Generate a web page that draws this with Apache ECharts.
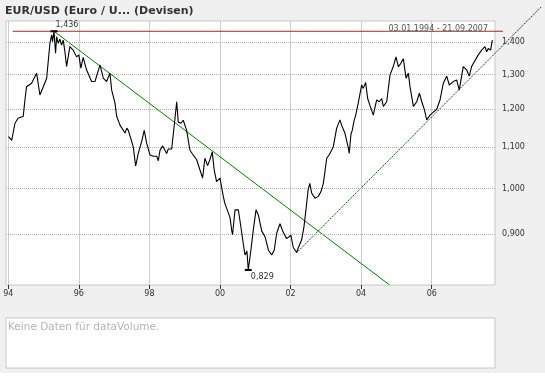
<!DOCTYPE html>
<html><head><meta charset="utf-8">
<script src="https://cdn.jsdelivr.net/npm/echarts@6/dist/echarts.min.js"></script>
<style>html,body{margin:0;padding:0;background:#fff;}#c{width:545px;height:373px;}</style>
</head><body><div id="c"></div>
<script>
// ---- data ----
const dates = [
'1994-01-03','1994-02-05','1994-03-11','1994-04-14','1994-06-04','1994-06-22','1994-07-09','1994-08-30','1994-10-21','1994-11-24','1994-12-29',
'1995-02-02','1995-02-26','1995-03-08','1995-03-26','1995-04-04','1995-04-19','1995-05-05','1995-05-16','1995-06-01','1995-06-19','1995-07-06','1995-07-23','1995-08-10','1995-08-27','1995-09-07','1995-09-30','1995-11-03','1995-11-22','1995-12-08',
'1996-01-01','1996-01-22','1996-02-15','1996-03-21','1996-05-12','1996-06-16','1996-08-07','1996-09-10','1996-10-15','1996-11-18','1996-12-06',
'1997-01-09','1997-01-27','1997-03-02','1997-04-23','1997-05-11','1997-05-27','1997-07-17','1997-08-11','1997-09-07','1997-10-12','1997-11-08','1997-12-03',
'1998-01-07','1998-02-10','1998-03-17','1998-04-03','1998-04-20','1998-05-18','1998-06-28','1998-07-15','1998-08-19','1998-09-15','1998-10-10','1998-10-26','1998-11-23','1998-12-17',
'1999-01-21','1999-02-24','1999-03-30','1999-05-04','1999-06-07','1999-07-05','1999-07-29','1999-08-26','1999-09-19','1999-10-13','1999-11-02','1999-11-27',
'2000-01-01','2000-02-04','2000-02-20','2000-03-11','2000-04-14','2000-05-02','2000-05-10','2000-06-05','2000-07-09','2000-07-25','2000-08-29','2000-09-16','2000-10-06','2000-10-20','2000-11-15','2000-12-10',
'2001-01-08','2001-02-01','2001-03-08','2001-04-11','2001-05-16','2001-06-19','2001-07-16','2001-08-10','2001-09-13','2001-10-11','2001-11-21',
'2002-01-04','2002-01-29','2002-03-05','2002-03-21','2002-04-25','2002-05-19','2002-06-09','2002-07-02','2002-07-19','2002-08-08','2002-09-10','2002-10-15','2002-11-12','2002-12-06','2002-12-23',
'2003-01-10','2003-02-03','2003-03-02','2003-03-19','2003-04-23','2003-05-27','2003-06-13','2003-07-17','2003-08-03','2003-08-20','2003-08-31','2003-09-18','2003-10-01','2003-10-22','2003-11-03','2003-12-02',
'2004-01-07','2004-01-23','2004-02-17','2004-03-09','2004-04-02','2004-05-06','2004-06-10','2004-07-07','2004-08-01','2004-08-18','2004-09-22','2004-10-26','2004-11-29','2004-12-27',
'2005-01-20','2005-02-14','2005-03-13','2005-04-10','2005-05-04','2005-05-21','2005-06-25','2005-07-30','2005-08-26','2005-09-20','2005-10-17','2005-11-10','2005-12-14',
'2006-01-18','2006-02-22','2006-03-28','2006-05-01','2006-06-05','2006-07-02','2006-08-12','2006-09-16','2006-10-13','2006-11-23','2006-12-28',
'2007-01-24','2007-02-18','2007-03-07','2007-04-28','2007-06-02','2007-07-06','2007-07-24','2007-08-09','2007-09-03','2007-09-13','2007-09-21'
];
const rates = [
1.127,1.117,1.162,1.176,1.180,1.226,1.264,1.274,1.304,1.240,1.264,
1.289,1.365,1.397,1.424,1.402,1.436,1.365,1.418,1.397,1.410,1.391,1.407,1.370,1.324,1.319,1.386,1.375,1.370,1.354,
1.360,1.319,1.352,1.314,1.279,1.279,1.329,1.289,1.279,1.304,1.254,
1.217,1.180,1.157,1.136,1.149,1.143,1.101,1.053,1.084,1.114,1.143,1.110,
1.080,1.077,1.077,1.066,1.092,1.103,1.084,1.095,1.095,1.157,1.221,1.165,1.162,1.170,
1.143,1.092,1.080,1.069,1.044,1.024,1.072,1.054,1.069,1.088,1.044,1.016,
1.024,0.982,0.967,0.963,0.935,0.907,0.899,0.952,0.952,0.930,0.881,0.858,0.866,0.829,0.866,0.907,
0.952,0.941,0.907,0.895,0.868,0.858,0.868,0.902,0.922,0.907,0.891,
0.898,0.873,0.863,0.872,0.888,0.915,0.952,0.997,1.012,0.989,0.978,0.982,0.993,1.012,1.040,
1.072,1.080,1.092,1.101,1.149,1.171,1.157,1.136,1.139,1.100,1.084,1.133,1.143,1.171,1.180,1.217,
1.269,1.259,1.276,1.230,1.210,1.184,1.226,1.221,1.230,1.208,1.221,1.298,1.324,1.354,
1.324,1.333,1.348,1.289,1.304,1.264,1.208,1.221,1.245,1.221,1.199,1.171,1.184,
1.192,1.200,1.226,1.274,1.295,1.269,1.279,1.284,1.254,1.324,1.314,
1.295,1.324,1.333,1.360,1.375,1.386,1.370,1.380,1.375,1.395,1.407
];
const xTickYears = [1994,1996,1998,2000,2002,2004,2006];
const yTickValues = [0.9,1.0,1.1,1.2,1.3,1.4];
const xRange = ['1993-12-08','2007-10-18'];
const yRange = [0.8008,1.4703];
const highPoint = {date:'1995-04-19', value:1.436, label:'1,436'};
const lowPoint = {date:'2000-10-20', value:0.829, label:'0,829'};
const resistanceDates = ['1994-02-15','2008-01-08'];
const resistanceValues = [1.436,1.436];
const downTrendDates = ['1995-04-19','2004-10-22'];
const downTrendValues = [1.436,0.8008];
const upTrendDates = ['2002-03-05','2009-02-05'];
const upTrendValues = [0.8626,1.518];
const titleText = 'EUR/USD (Euro / U... (Devisen)';
const rangeText = '03.01.1994 - 21.09.2007';
const volumeText = 'Keine Daten für dataVolume.';

// ---- chart ----
const ts = s => new Date(s + 'T00:00:00').getTime();
const FONT = 'DejaVu Sans';
const pairs = (ds, vs) => ds.map((d, i) => [ts(d), vs[i]]);
const xTicks = xTickYears.map(y => new Date(y, 0, 1).getTime());

// main plot box (pixels) and an overlay box reaching the canvas edge, sharing the same scales
const G = {left: 6, top: 21, width: 489, height: 264};
const O = {left: 6, top: 0, width: 539, height: 285};
const xMin = ts(xRange[0]), xMax = ts(xRange[1]);
const xMaxO = xMin + (xMax - xMin) * O.width / G.width;
const lyMin = Math.log10(yRange[0]), lyMax = Math.log10(yRange[1]);
const yMaxO = Math.pow(10, lyMin + (lyMax - lyMin) * O.height / G.height);

const chart = echarts.init(document.getElementById('c'), null, {renderer: 'canvas'});
chart.setOption({
  animation: false,
  backgroundColor: '#f0f0f0',
  textStyle: {fontFamily: FONT},
  grid: [
    Object.assign({show: true, backgroundColor: '#fff', borderColor: '#c8c8c8', borderWidth: 1}, G),
    {left: 6, top: 318, width: 489, height: 50, show: true, backgroundColor: '#fff', borderColor: '#c8c8c8', borderWidth: 1},
    Object.assign({show: false}, O)
  ],
  xAxis: [
    {type: 'value', gridIndex: 0, min: xMin, max: xMax,
     axisLine: {show: false},
     axisTick: {show: true, length: 4, lineStyle: {color: '#333'}, customValues: xTicks},
     axisLabel: {customValues: xTicks, formatter: v => String(new Date(v).getFullYear()).slice(2),
       fontSize: 8, color: '#333', margin: 5, fontFamily: FONT},
     splitLine: {show: true, lineStyle: {color: '#cccccc', width: 1}}},
    {type: 'value', gridIndex: 1, show: false},
    {type: 'value', gridIndex: 2, show: false, min: xMin, max: xMaxO}
  ],
  yAxis: [
    {type: 'log', logBase: 10, gridIndex: 0, min: yRange[0], max: yRange[1], position: 'right',
     axisLine: {show: false}, axisTick: {show: false}, axisLabel: {show: false}, splitLine: {show: false}},
    {type: 'value', gridIndex: 1, show: false},
    {type: 'log', logBase: 10, gridIndex: 2, show: false, min: yRange[0], max: yMaxO}
  ],
  graphic: [
    {type: 'text', left: 5, top: 6, style: {text: titleText, font: 'bold 11px "DejaVu Sans"', fill: '#333'}},
    {type: 'text', right: 57, top: 25, z: 100, style: {text: rangeText, font: '8px "DejaVu Sans"', fill: '#555'}},
    {type: 'text', left: 8, top: 322, style: {text: volumeText, font: '10.5px "DejaVu Sans"', fill: '#b4b4b4'}}
  ],
  series: [
    {type: 'line', name: 'grid', data: [], z: 1, silent: true,
     markLine: {silent: true, symbol: ['none', 'none'], animation: false,
       lineStyle: {type: 'dotted', color: '#b0b0b0', width: 1},
       label: {show: true, position: 'end', distance: 7, fontSize: 8, color: '#333', fontFamily: FONT,
         formatter: p => p.value.toFixed(3).replace('.', ',')},
       data: yTickValues.map(v => ({yAxis: v}))}},
    {type: 'line', name: 'EUR/USD', data: pairs(dates, rates), z: 5, symbol: 'none', showSymbol: false,
     lineStyle: {color: '#000', width: 1.1},
     markPoint: {symbol: 'rect', symbolSize: [7, 2], itemStyle: {color: '#000'}, silent: true,
       label: {show: true, position: 'inside', fontSize: 8, color: '#333', fontFamily: FONT, formatter: p => p.name},
       data: [
         {name: highPoint.label, coord: [ts(highPoint.date), highPoint.value], label: {offset: [13, -6]}},
         {name: lowPoint.label, coord: [ts(lowPoint.date), lowPoint.value], label: {offset: [14, 7]}}
       ]}},
    {type: 'line', name: 'Widerstand', xAxisIndex: 2, yAxisIndex: 2, data: pairs(resistanceDates, resistanceValues), z: 4, symbol: 'none',
     lineStyle: {color: '#ff0000', width: 1}},
    {type: 'line', name: 'Abwärtstrend', data: pairs(downTrendDates, downTrendValues), z: 4, symbol: 'none',
     lineStyle: {color: '#008000', width: 1}},
    {type: 'line', name: 'Aufwärtstrend', xAxisIndex: 2, yAxisIndex: 2, data: pairs(upTrendDates, upTrendValues), z: 4, symbol: 'none',
     lineStyle: {color: '#004000', width: 1, type: [1.5, 1]}}
  ]
});
</script></body></html>
